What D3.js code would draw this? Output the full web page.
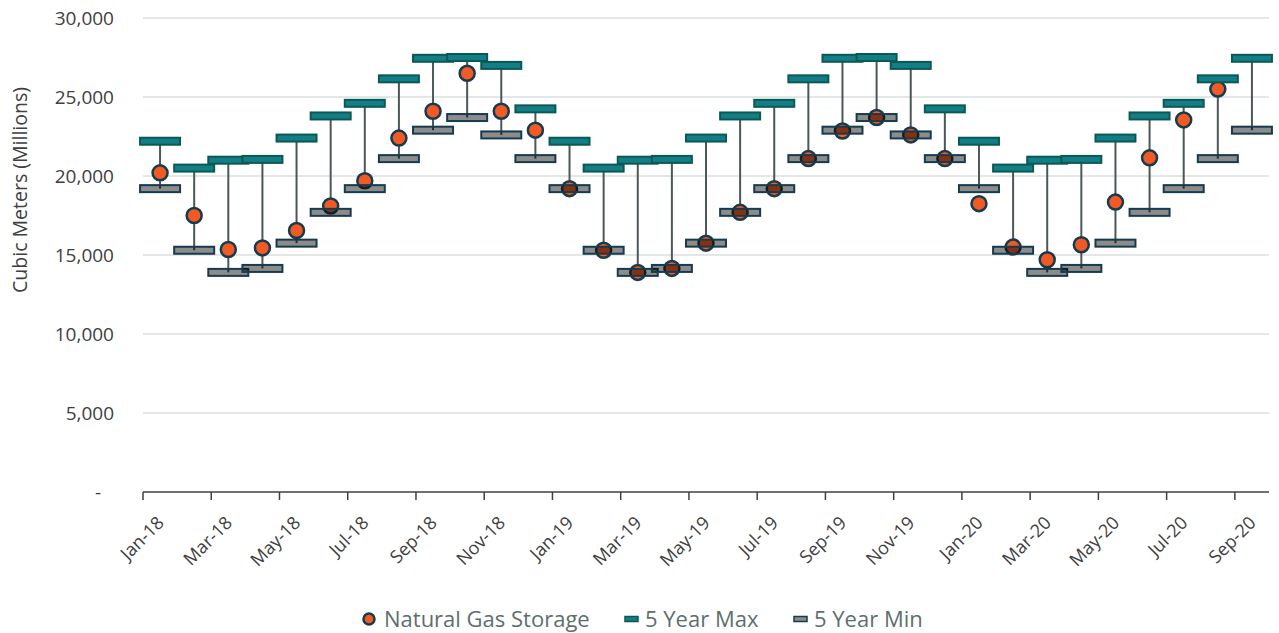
<!DOCTYPE html>
<html>
<head>
	<meta charset="utf-8">
	<title>Natural Gas Storage</title>
	<script src="https://cdn.jsdelivr.net/npm/d3@7"></script>
	<style type="text/css">
		body { margin: 0; background: #ffffff; }
		text { font-family: "Open Sans", "Noto Sans", sans-serif; }
	</style>
</head>
<body>
	<script type="text/javascript">
		// Data (millions of cubic meters)
		var months = ["Jan-18","Feb-18","Mar-18","Apr-18","May-18","Jun-18","Jul-18","Aug-18","Sep-18","Oct-18","Nov-18","Dec-18",
		              "Jan-19","Feb-19","Mar-19","Apr-19","May-19","Jun-19","Jul-19","Aug-19","Sep-19","Oct-19","Nov-19","Dec-19",
		              "Jan-20","Feb-20","Mar-20","Apr-20","May-20","Jun-20","Jul-20","Aug-20","Sep-20"];
		var storage = [20200, 17500, 15350, 15450, 16550, 18100, 19700, 22400, 24100, 26500, 24100, 22900,
		               19200, 15300, 13900, 14150, 15750, 17700, 19200, 21100, 22850, 23700, 22600, 21100,
		               18250, 15500, 14700, 15650, 18350, 21150, 23550, 25500, null];
		var maxVals = [22200, 20500, 21000, 21050, 22400, 23800, 24600, 26150, 27450, 27500, 27000, 24250,
		               22200, 20500, 21000, 21050, 22400, 23800, 24600, 26150, 27450, 27500, 27000, 24250,
		               22200, 20500, 21000, 21050, 22400, 23800, 24600, 26150, 27450];
		var minVals = [19200, 15300, 13900, 14150, 15750, 17700, 19200, 21100, 22900, 23700, 22600, 21100,
		               19200, 15300, 13900, 14150, 15750, 17700, 19200, 21100, 22900, 23700, 22600, 21100,
		               19200, 15300, 13900, 14150, 15750, 17700, 19200, 21100, 22900];
		var yTicks = [0, 5000, 10000, 15000, 20000, 25000, 30000];
		var legendNames = ["Natural Gas Storage", "5 Year Max", "5 Year Min"];

		var width = 1279;
		var height = 633;
		var plotLeft = 143, plotRight = 1269, plotTop = 18, plotBottom = 492;

		var svg = d3.select("body").append("svg")
		            .attr("width", width)
		            .attr("height", height);

		var x = d3.scaleBand()
		          .domain(months)
		          .range([plotLeft, plotRight])
		          .padding(0);
		var y = d3.scaleLinear()
		          .domain([0, 30000])
		          .range([plotBottom, plotTop]);
		var bw = x.bandwidth();

		// gridlines
		svg.append("g")
		   .selectAll("line")
		   .data(yTicks.filter(function(d){ return d > 0; }))
		   .enter()
		   .append("line")
		     .attr("x1", plotLeft)
		     .attr("x2", plotRight)
		     .attr("y1", function(d){ return y(d); })
		     .attr("y2", function(d){ return y(d); })
		     .attr("stroke", "#d9e1df")
		     .attr("stroke-width", 1.5);

		// y axis labels
		var yAxis = svg.append("g")
		   .attr("transform", "translate(" + plotLeft + ",0)")
		   .call(d3.axisLeft(y)
		     .tickValues(yTicks)
		     .tickSize(0)
		     .tickPadding(29)
		     .tickFormat(function(d){ return d === 0 ? "-" : d3.format(",")(d); }));
		yAxis.select(".domain").remove();
		yAxis.selectAll("text")
		   .attr("font-size", 19)
		   .attr("fill", "#404040")
		   .attr("font-family", "Open Sans");
		yAxis.selectAll(".tick")
		   .filter(function(d){ return d === 0; })
		   .select("text")
		   .attr("dx", -13);

		svg.append("text")
		   .attr("transform", "translate(27,190) rotate(-90)")
		   .attr("text-anchor", "middle")
		   .attr("font-size", 19.5)
		   .attr("fill", "#404040")
		   .text("Cubic Meters (Millions)");

		// x axis
		var xAxis = svg.append("g");
		xAxis.append("line")
		   .attr("x1", plotLeft)
		   .attr("x2", plotRight)
		   .attr("y1", plotBottom)
		   .attr("y2", plotBottom)
		   .attr("stroke", "#404040")
		   .attr("stroke-width", 1.5);
		var tickMonths = months.filter(function(d, i){ return i % 2 === 0; });
		xAxis.selectAll(".tk")
		   .data(tickMonths)
		   .enter()
		   .append("line")
		     .attr("class", "tk")
		     .attr("x1", function(d){ return x(d); })
		     .attr("x2", function(d){ return x(d); })
		     .attr("y1", plotBottom)
		     .attr("y2", plotBottom + 8)
		     .attr("stroke", "#404040")
		     .attr("stroke-width", 1.5);
		xAxis.selectAll(".lbl")
		   .data(tickMonths)
		   .enter()
		   .append("text")
		     .attr("class", "lbl")
		     .attr("text-anchor", "end")
		     .attr("font-size", 18)
		     .attr("fill", "#404040")
		     .attr("transform", function(d){
		       return "translate(" + (x(d) + bw / 2 + 5) + "," + (plotBottom + 32) + ") rotate(-45)";
		     })
		     .text(function(d){ return d; });

		// high-low lines
		svg.append("g")
		   .selectAll("line")
		   .data(months)
		   .enter()
		   .append("line")
		     .attr("x1", function(d){ return x(d) + bw / 2; })
		     .attr("x2", function(d){ return x(d) + bw / 2; })
		     .attr("y1", function(d, i){ return y(maxVals[i]); })
		     .attr("y2", function(d, i){ return y(minVals[i]); })
		     .attr("stroke", "#4b5759")
		     .attr("stroke-width", 2);

		// storage points
		svg.append("g")
		   .selectAll("circle")
		   .data(months.filter(function(d, i){ return storage[i] !== null; }))
		   .enter()
		   .append("circle")
		     .attr("cx", function(d){ return x(d) + bw / 2; })
		     .attr("cy", function(d){ return y(storage[months.indexOf(d)]); })
		     .attr("r", 7.5)
		     .attr("fill", "#f15a24")
		     .attr("stroke", "#163b4e")
		     .attr("stroke-width", 2.5);

		var rw = 40, rh = 7;
		// 5 year max
		svg.append("g")
		   .selectAll("rect")
		   .data(months)
		   .enter()
		   .append("rect")
		     .attr("x", function(d){ return x(d) + bw / 2 - rw / 2; })
		     .attr("y", function(d, i){ return y(maxVals[i]) - rh / 2; })
		     .attr("width", rw)
		     .attr("height", rh)
		     .attr("fill", "#137e87")
		     .attr("stroke", "#0b5a52")
		     .attr("stroke-width", 2);

		// 5 year min
		svg.append("g")
		   .selectAll("rect")
		   .data(months)
		   .enter()
		   .append("rect")
		     .attr("x", function(d){ return x(d) + bw / 2 - rw / 2; })
		     .attr("y", function(d, i){ return y(minVals[i]) - rh / 2; })
		     .attr("width", rw)
		     .attr("height", rh)
		     .attr("fill", "rgba(0,0,0,0.45)")
		     .attr("stroke", "#173b4e")
		     .attr("stroke-width", 2);

		// legend
		var legend = svg.append("g").attr("transform", "translate(0,619)");
		legend.append("circle")
		   .attr("cx", 369)
		   .attr("cy", 0)
		   .attr("r", 5.5)
		   .attr("fill", "#f15a24")
		   .attr("stroke", "#163b4e")
		   .attr("stroke-width", 2.5);
		legend.append("rect")
		   .attr("x", 625).attr("y", -2.5)
		   .attr("width", 13).attr("height", 5)
		   .attr("fill", "#137e87")
		   .attr("stroke", "#0b5a52")
		   .attr("stroke-width", 1.5);
		legend.append("rect")
		   .attr("x", 794).attr("y", -2.5)
		   .attr("width", 13).attr("height", 5)
		   .attr("fill", "#8c8c8c")
		   .attr("stroke", "#173b4e")
		   .attr("stroke-width", 1.5);
		var legendX = [384, 645, 814];
		legend.selectAll("text")
		   .data(legendNames)
		   .enter()
		   .append("text")
		     .attr("x", function(d, i){ return legendX[i]; })
		     .attr("y", 0)
		     .attr("dy", "0.35em")
		     .attr("font-size", 22)
		     .attr("fill", "#5d6f6d")
		     .text(function(d){ return d; });
	</script>
</body>
</html>
